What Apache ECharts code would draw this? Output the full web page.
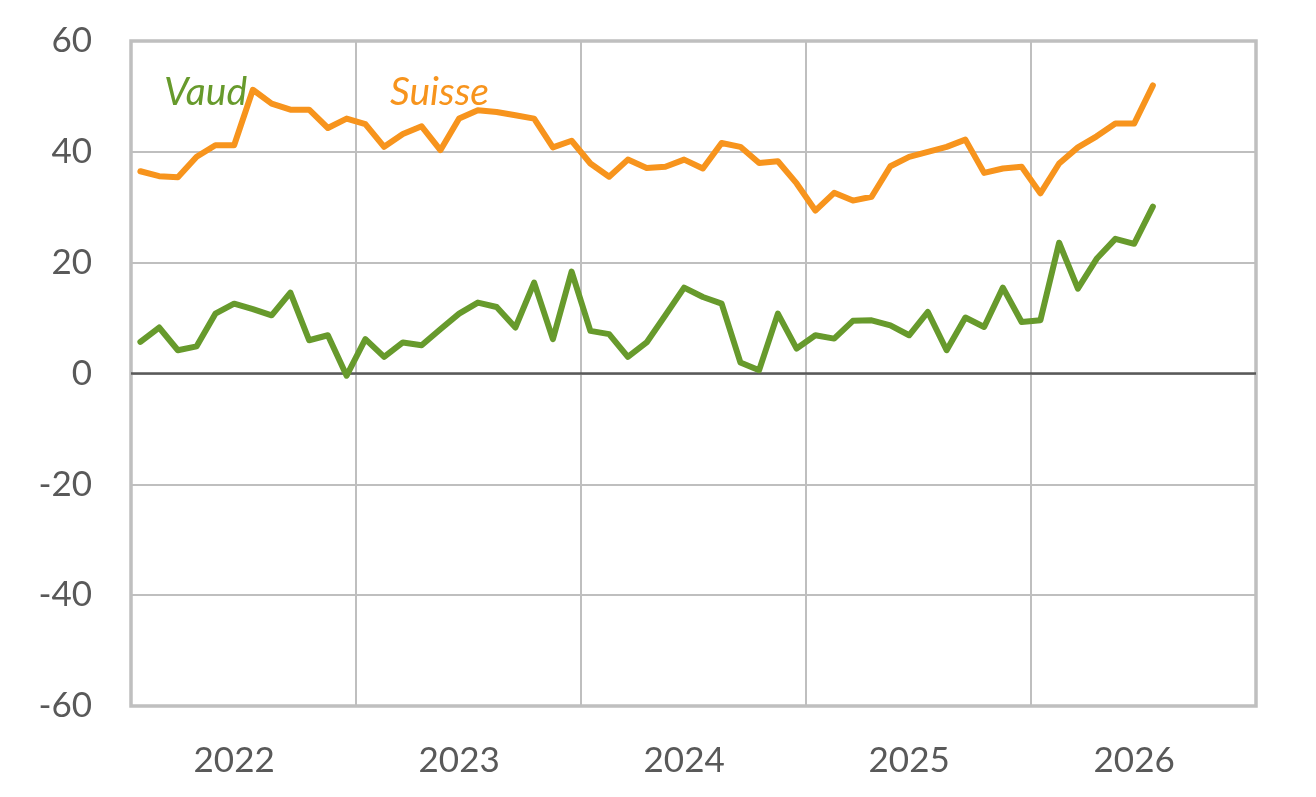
<!DOCTYPE html>
<html>
<head>
<meta charset="utf-8">
<script src="https://cdn.jsdelivr.net/npm/echarts@6/dist/echarts.min.js"></script>
<style>
  html, body { margin: 0; padding: 0; background: #fff; }
  #chart { width: 1316px; height: 797px; }
</style>
</head>
<body>
<div id="chart"></div>
<script>
// mois 2022-01 .. 2026-12
var months = [];
for (var y = 2022; y <= 2026; y++) {
    for (var m = 1; m <= 12; m++) {
        months.push(y + '-' + (m < 10 ? '0' + m : m));
    }
}

var suisse = [36.5, 35.6, 35.4, 39.1, 41.2, 41.2, 51.2, 48.7, 47.6, 47.6, 44.3, 46.0,
    45.0, 40.9, 43.2, 44.6, 40.3, 46.0, 47.5, 47.2, 46.6, 46.0, 40.8, 42.0,
    37.9, 35.5, 38.6, 37.1, 37.3, 38.6, 37.0, 41.6, 40.9, 38.0, 38.3, 34.3,
    29.4, 32.6, 31.2, 31.9, 37.4, 39.1, 40.0, 40.9, 42.2, 36.2, 37.0, 37.3,
    32.5, 37.9, 40.8, 42.8, 45.1, 45.1, 52.0];

var vaud = [5.7, 8.3, 4.2, 4.9, 10.8, 12.6, 11.6, 10.5, 14.6, 6.0, 6.9, -0.4,
    6.2, 3.0, 5.6, 5.1, 8.0, 10.8, 12.8, 12.0, 8.3, 16.4, 6.2, 18.4,
    7.7, 7.1, 3.0, 5.6, 10.5, 15.5, 13.8, 12.6, 2.0, 0.6, 10.8, 4.5,
    6.9, 6.3, 9.5, 9.6, 8.7, 6.9, 11.1, 4.2, 10.1, 8.4, 15.5, 9.3,
    9.6, 23.6, 15.3, 20.7, 24.3, 23.4, 30.1];

var yTicks = {min: -60, max: 60, step: 20};

var myChart = echarts.init(document.getElementById('chart'));
var font = 'Lato, "Liberation Sans", sans-serif';
myChart.setOption({
    animation: false,
    grid: {
        left: 131,
        right: 60,
        top: 41,
        bottom: 91,
        show: true,
        borderColor: '#bfbfbf',
        borderWidth: 3.5
    },
    xAxis: {
        type: 'category',
        data: months,
        boundaryGap: true,
        axisLine: {show: false},
        axisTick: {show: false},
        axisLabel: {
            interval: function (i) { return i % 12 === 5; },
            formatter: function (v) { return v.slice(0, 4); },
            color: '#595959',
            fontSize: 35,
            fontFamily: font,
            margin: 37
        },
        splitLine: {
            show: true,
            interval: function (i) { return i % 12 === 0; },
            lineStyle: {color: '#bfbfbf', width: 2}
        }
    },
    yAxis: {
        type: 'value',
        min: yTicks.min,
        max: yTicks.max,
        interval: yTicks.step,
        axisLine: {show: false},
        axisTick: {show: false},
        axisLabel: {
            color: '#595959',
            fontSize: 35,
            fontFamily: font,
            margin: 39
        },
        splitLine: {lineStyle: {color: '#bfbfbf', width: 2}}
    },
    series: [
        {
            name: 'Suisse',
            type: 'line',
            data: suisse,
            symbol: 'none',
            lineStyle: {color: '#f7941d', width: 6, cap: 'round', join: 'round'},
            z: 3
        },
        {
            name: 'Vaud',
            type: 'line',
            data: vaud,
            symbol: 'none',
            lineStyle: {color: '#679a2c', width: 6, cap: 'round', join: 'round'},
            z: 4,
            markLine: {
                silent: true,
                symbol: 'none',
                label: {show: false},
                lineStyle: {color: '#595959', width: 2.5, type: 'solid'},
                data: [{yAxis: 0}],
                z: 2
            }
        }
    ],
    graphic: [
        {
            type: 'text', left: 164, top: 73, z: 10,
            style: {text: 'Vaud', fill: '#679a2c', fontSize: 39, fontStyle: 'italic', fontFamily: font}
        },
        {
            type: 'text', left: 390, top: 73, z: 10,
            style: {text: 'Suisse', fill: '#f7941d', fontSize: 39, fontStyle: 'italic', fontFamily: font}
        }
    ]
});
</script>
</body>
</html>
